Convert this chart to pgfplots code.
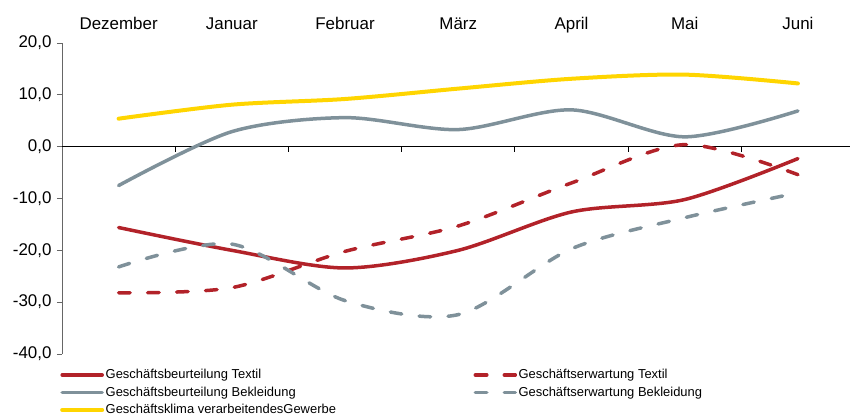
\documentclass[border=0pt]{standalone}
\usepackage{pgfplots}
\pgfplotsset{compat=1.18}
\usepackage{fontspec}
\setmainfont{Liberation Sans}
\definecolor{cred}{RGB}{178,34,41}
\definecolor{cgrey}{RGB}{127,145,154}
\definecolor{cyel}{RGB}{255,213,0}
\begin{document}
\begin{tikzpicture}
\begin{axis}[
  at={(0,0)}, anchor=south west,
  scale only axis, width=788bp, height=311bp,
  xmin=-0.5, xmax=6.46, ymin=-40, ymax=20,
  axis x line*=top, axis y line*=left,
  x axis line style={draw=none},
  y axis line style={black!60, line width=0.8pt},
  xtick={0,...,6},
  xticklabels={Dezember,Januar,Februar,März,April,Mai,Juni},
  x tick style={draw=none},
  xticklabel style={text height=12.5bp, text depth=3.5bp, yshift=1bp},
  ytick={-40,-30,...,20},
  y tick style={black!60, line width=0.8pt},
  tick align=outside, major tick length=5bp,
  yticklabel style={xshift=-2bp, /pgf/number format/.cd, fixed, fixed zerofill, precision=1, use comma},
  /pgf/number format/assume math mode=true,
  tick label style={font=\fontsize{17}{20}\selectfont},
  legend columns=2,
  legend cell align=left,
  legend style={at={(rel axis cs:0,0)}, anchor=north west, xshift=-2bp, yshift=-12bp,
    draw=none, fill=none, inner sep=0pt,
    nodes={inner ysep=3.3bp, inner xsep=1.5bp},
    font=\fontsize{13}{15}\selectfont,
    /tikz/every even column/.append style={column sep=136bp}},
  legend image code/.code={\draw[#1] (0bp,0bp) -- (40bp,0bp);},
  every axis plot/.append style={smooth, tension=0.5, line cap=round, line width=3.5bp},
]
\draw[black, line width=0.8pt] (axis cs:-0.5,0) -- (axis cs:6.46,0);
\pgfplotsinvokeforeach{0.5,1.5,2.5,3.5,4.5,5.5}{\draw[black, line width=0.8pt] (axis cs:#1,0) -- ([yshift=-5bp]axis cs:#1,0);}
% Geschaeftsbeurteilung Textil
\addplot[cred] coordinates {(0,-15.6) (1,-20.0) (2,-23.4) (3,-20.0) (4,-12.6) (5,-10.2) (6,-2.3)};
\addlegendentry{Geschäftsbeurteilung Textil}
% Geschaeftserwartung Textil
\addplot[cred, dash pattern=on 11.5bp off 17.5bp] coordinates {(0,-28.2) (1,-27.2) (2,-20.2) (3,-15.3) (4,-7.0) (5,0.4) (6,-5.4)};
\addlegendentry{Geschäftserwartung Textil}
% Geschaeftsbeurteilung Bekleidung
\addplot[cgrey] coordinates {(0,-7.5) (1,2.9) (2,5.6) (3,3.3) (4,7.1) (5,1.9) (6,6.9)};
\addlegendentry{Geschäftsbeurteilung Bekleidung}
% Geschaeftserwartung Bekleidung
\addplot[cgrey, dash pattern=on 11.5bp off 17.5bp] coordinates {(0,-23.2) (1,-18.8) (2,-29.7) (3,-32.4) (4,-19.7) (5,-13.7) (6,-8.9)};
\addlegendentry{Geschäftserwartung Bekleidung}
% Geschaeftsklima
\addplot[cyel, line width=4bp] coordinates {(0,5.4) (1,8.1) (2,9.2) (3,11.2) (4,13.1) (5,13.9) (6,12.2)};
\addlegendentry{Geschäftsklima verarbeitendesGewerbe}
\end{axis}
\pgfresetboundingbox
\path[use as bounding box] (-62bp,-61bp) rectangle (788bp,354bp);
\end{tikzpicture}
\end{document}
